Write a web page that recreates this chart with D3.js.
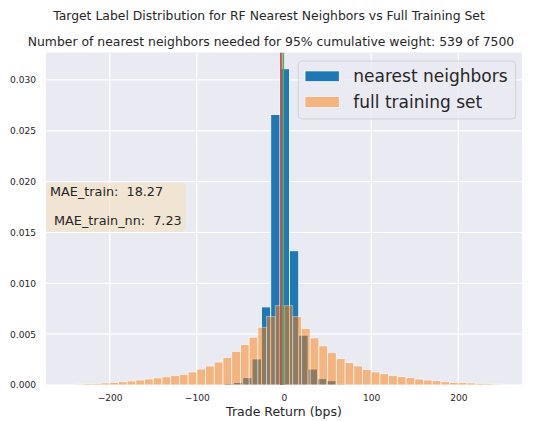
<!DOCTYPE html>
<html>
<head>
<meta charset="utf-8">
<script src="https://cdn.jsdelivr.net/npm/d3@7"></script>
<style>
  html, body { margin: 0; padding: 0; background: #ffffff; }
  svg { display: block; font-family: "DejaVu Sans", sans-serif; }
  text { fill: #262626; }
</style>
</head>
<body>
<svg id="chart" width="538" height="421"></svg>
<script>
// Histogram of the full training set: 10 bps bins from -260 to 260 (density)
const fullBinStart = -260;
const fullBinWidth = 10;
const fullDensity = [
  0.00002, 0.00004, 0.0001, 0.00013, 0.00016, 0.0002, 0.00026, 0.00032, 0.0004, 0.00049,
  0.00059, 0.0007, 0.0008, 0.00092, 0.00105, 0.00128, 0.00157, 0.00187, 0.00226, 0.00269,
  0.00331, 0.00397, 0.0047, 0.00568, 0.00673, 0.0078,
  0.0078, 0.00673, 0.00556, 0.00463, 0.00385, 0.00317, 0.00259, 0.0022, 0.00187, 0.00154,
  0.00128, 0.00111, 0.00092, 0.00082, 0.00072, 0.00059, 0.00049, 0.00042, 0.00032, 0.00026,
  0.00023, 0.0002, 0.00016, 0.00013, 0.0001, 0.00002
];

// Histogram of the RF nearest neighbors (density)
const nnBinStart = -68.7;
const nnBinWidth = 10.7;
const nnDensity = [
  0.00016, 0.00026, 0.00072, 0.00256, 0.00768, 0.0266, 0.0311,
  0.0132, 0.0049, 0.00157, 0.00062, 0.00042, 0.0001
];

// Reference lines
const meanFull = -0.8;
const meanNN = -3.5;

const xTicks = [-200, -100, 0, 100, 200];
const yTicks = [0, 0.005, 0.01, 0.015, 0.02, 0.025, 0.03];
const legendLabels = ["nearest neighbors", "full training set"];
const maeLines = ["MAE_train:  18.27", " MAE_train_nn:  7.23"];
const titleLines = [
  "Target Label Distribution for RF Nearest Neighbors vs Full Training Set",
  "Number of nearest neighbors needed for 95% cumulative weight: 539 of 7500"
];
const xLabel = "Trade Return (bps)";

const blue = "#1f77b4", orange = "#ff7f0e";
const plot = { left: 46, right: 522, top: 52.5, bottom: 385 };

const svg = d3.select("#chart");

const x = d3.scaleLinear().domain([-273, 273]).range([plot.left, plot.right]);
const y = d3.scaleLinear().domain([0, 0.0327]).range([plot.bottom, plot.top]);

// axes background
svg.append("rect")
  .attr("x", plot.left).attr("y", plot.top)
  .attr("width", plot.right - plot.left).attr("height", plot.bottom - plot.top)
  .attr("fill", "#eaeaf2");

// grid
const grid = svg.append("g");
grid.selectAll(".gx").data(xTicks).join("line")
  .attr("x1", d => x(d)).attr("x2", d => x(d))
  .attr("y1", plot.top).attr("y2", plot.bottom)
  .attr("stroke", "#ffffff").attr("stroke-width", 1.2);
grid.selectAll(".gy").data(yTicks).join("line")
  .attr("x1", plot.left).attr("x2", plot.right)
  .attr("y1", d => y(d)).attr("y2", d => y(d))
  .attr("stroke", "#ffffff").attr("stroke-width", 1.2);

svg.append("clipPath").attr("id", "plotclip")
  .append("rect")
  .attr("x", plot.left).attr("y", plot.top)
  .attr("width", plot.right - plot.left).attr("height", plot.bottom - plot.top);

const marks = svg.append("g").attr("clip-path", "url(#plotclip)");

// nearest-neighbor histogram
const nnBins = nnDensity.map((v, i) => ({
  x0: nnBinStart + i * nnBinWidth, x1: nnBinStart + (i + 1) * nnBinWidth, v
}));
marks.append("g").selectAll("rect").data(nnBins).join("rect")
  .attr("x", d => x(d.x0)).attr("width", d => x(d.x1) - x(d.x0))
  .attr("y", d => y(d.v)).attr("height", d => y(0) - y(d.v))
  .attr("fill", blue).attr("stroke", "#ffffff").attr("stroke-width", 0.8);

// full training set histogram (semi-transparent)
const fullBins = fullDensity.map((v, i) => ({
  x0: fullBinStart + i * fullBinWidth, x1: fullBinStart + (i + 1) * fullBinWidth, v
}));
marks.append("g").selectAll("rect").data(fullBins).join("rect")
  .attr("x", d => x(d.x0)).attr("width", d => x(d.x1) - x(d.x0))
  .attr("y", d => y(d.v)).attr("height", d => y(0) - y(d.v))
  .attr("fill", orange).attr("stroke", "#ffffff").attr("stroke-width", 0.8)
  .attr("opacity", 0.5);

// vertical reference lines
marks.append("line")
  .attr("x1", x(meanFull)).attr("x2", x(meanFull))
  .attr("y1", plot.top).attr("y2", plot.bottom)
  .attr("stroke", "#55a868").attr("stroke-width", 1.8);
marks.append("line")
  .attr("x1", x(meanNN)).attr("x2", x(meanNN))
  .attr("y1", plot.top).attr("y2", plot.bottom)
  .attr("stroke", "#c44e52").attr("stroke-width", 1.8);

// axes
const xAxis = svg.append("g")
  .attr("transform", `translate(0,${plot.bottom})`)
  .call(d3.axisBottom(x).tickValues(xTicks).tickSize(0).tickPadding(9.5)
    .tickFormat(d => d3.format("d")(d).replace("-", "\u2212")));
xAxis.select(".domain").remove();
xAxis.selectAll("text").attr("font-size", 9.1).attr("fill", "#262626")
  .attr("font-family", "DejaVu Sans");

const yAxis = svg.append("g")
  .attr("transform", `translate(${plot.left},0)`)
  .call(d3.axisLeft(y).tickValues(yTicks).tickSize(0).tickPadding(10)
    .tickFormat(d3.format(".3f")));
yAxis.select(".domain").remove();
yAxis.selectAll("text").attr("font-size", 9.1).attr("fill", "#262626")
  .attr("font-family", "DejaVu Sans");

// x label
svg.append("text")
  .attr("x", (plot.left + plot.right) / 2).attr("y", 416)
  .attr("text-anchor", "middle").attr("font-size", 12.5)
  .text(xLabel);

// titles
svg.append("text").attr("x", 269).attr("y", 19.5)
  .attr("text-anchor", "middle").attr("font-size", 12.4)
  .text(titleLines[0]);
svg.append("text").attr("x", 271).attr("y", 46)
  .attr("text-anchor", "middle").attr("font-size", 12.4)
  .text(titleLines[1]);

// MAE annotation box
const ann = svg.append("g");
ann.append("rect")
  .attr("x", 46).attr("y", 182.7).attr("width", 139.7).attr("height", 49)
  .attr("rx", 4).attr("fill", "#f5deb3").attr("opacity", 0.5);
ann.selectAll("text").data(maeLines).join("text")
  .attr("x", 50).attr("y", (d, i) => [196.3, 224.6][i])
  .attr("font-size", 12.8).style("white-space", "pre")
  .text(d => d);

// legend
const leg = svg.append("g");
leg.append("rect")
  .attr("x", 298.3).attr("y", 61).attr("width", 217.4).attr("height", 58)
  .attr("rx", 4).attr("fill", "#eaeaf2").attr("fill-opacity", 0.8)
  .attr("stroke", "#cccccc").attr("stroke-opacity", 0.8).attr("stroke-width", 1);
const legItems = [
  { label: legendLabels[0], color: blue, op: 1, cy: 76.3 },
  { label: legendLabels[1], color: orange, op: 0.5, cy: 102 }
];
leg.selectAll(".h").data(legItems).join("rect")
  .attr("x", 305).attr("y", d => d.cy - 5.4).attr("width", 34.3).attr("height", 10.8)
  .attr("fill", d => d.color).attr("opacity", d => d.op)
  .attr("stroke", "#ffffff").attr("stroke-width", 0.8);
leg.selectAll(".t").data(legItems).join("text")
  .attr("x", 353.3).attr("y", d => d.cy + 6)
  .attr("font-size", 17)
  .text(d => d.label);
</script>
</body>
</html>
